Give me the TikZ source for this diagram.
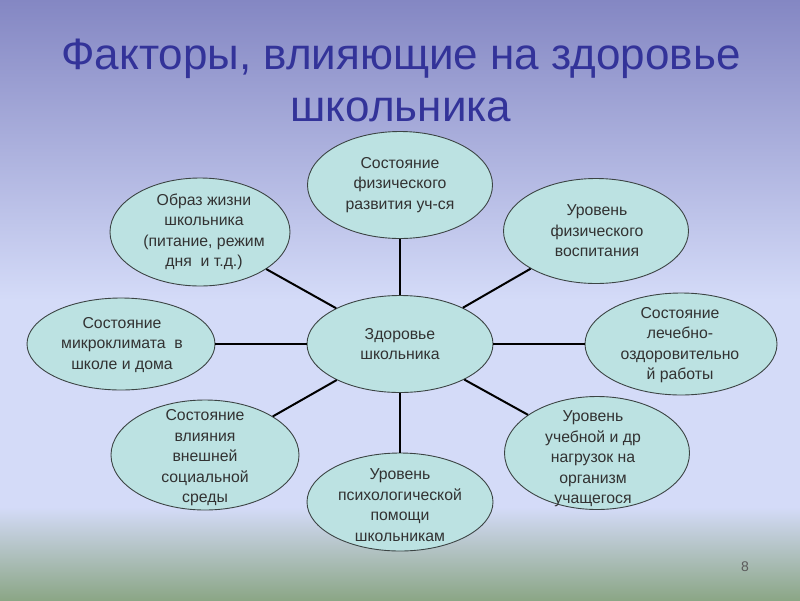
\documentclass[tikz,border=0pt]{standalone}
\usepackage{fontspec}
\setmainfont{Liberation Sans}
\usetikzlibrary{shapes.geometric}
\definecolor{bgtop}{RGB}{132,135,195}
\definecolor{bgmid}{RGB}{212,219,248}
\definecolor{bgbot}{RGB}{139,166,134}
\definecolor{bubblefill}{RGB}{188,226,226}
\definecolor{bubbleline}{RGB}{60,68,68}
\definecolor{titleblue}{RGB}{51,51,153}
\definecolor{textgray}{RGB}{50,50,50}
\tikzset{
  bubble/.style={ellipse, draw=bubbleline, line width=0.9pt, fill=bubblefill, inner sep=0pt},
  btext/.style={font=\fontsize{15.8}{20.5}\selectfont, text=textgray, align=center, inner sep=0pt},
  spoke/.style={line width=2pt, black}
}
\begin{document}
\begin{tikzpicture}[x=1pt,y=-1pt]
\useasboundingbox (0,0) rectangle (800,600);
\shade[top color=bgtop, bottom color=bgmid] (0,0) rectangle (800,300);
\fill[bgmid] (0,299) rectangle (800,508);
\shade[top color=bgmid, bottom color=bgbot] (0,507) rectangle (800,600);

\node[font=\fontsize{44}{52}\selectfont, text=titleblue, align=center, inner sep=0pt] (title) at (401,80) {Факторы, влияющие на здоровье\\школьника};

% ellipses
\node[bubble, minimum width=186pt, minimum height=97pt] (c) at (400,344) {};
\node[bubble, minimum width=185pt, minimum height=107pt] (n) at (400,185) {};
\node[bubble, minimum width=180pt, minimum height=108pt] (nw) at (200,232) {};
\node[bubble, minimum width=185pt, minimum height=105pt] (ne) at (596,231) {};
\node[bubble, minimum width=188pt, minimum height=92pt] (w) at (121,344) {};
\node[bubble, minimum width=192pt, minimum height=102pt] (e) at (681,344) {};
\node[bubble, minimum width=188pt, minimum height=110pt] (sw) at (205,455) {};
\node[bubble, minimum width=186pt, minimum height=98pt] (s) at (400,502) {};
\node[bubble, minimum width=185pt, minimum height=113pt] (se) at (597,453) {};

% texts
\node[btext] (tc) at (400,344) {Здоровье\\школьника};
\node[btext] (tn) at (400,185) {Состояние\\физического\\развития уч-ся};
\node[btext] (tnw) at (204,232) {Образ жизни\\школьника\\(питание, режим\\дня~~и т.д.)};
\node[btext] (tne) at (597,231) {Уровень\\физического\\воспитания};
\node[btext] (tw) at (122,345) {Состояние\\микроклимата~~в\\школе и дома};
\node[btext] (te) at (680,345) {Состояние\\лечебно-\\оздоровительно\\й работы};
\node[btext] (tsw) at (205,458) {Состояние\\влияния\\внешней\\социальной\\среды};
\node[btext] (ts) at (400,505) {Уровень\\психологической\\помощи\\школьникам};
\node[btext] (tse) at (593,459) {Уровень\\учебной и др\\нагрузок на\\организм\\учащегося};

\foreach \t in {n,nw,ne,w,e,sw,s,se} {
  \draw[spoke] (c) -- (\t);
}

\node[font=\fontsize{14}{16}\selectfont, text=textgray!80] (pnum) at (745,567) {8};
\end{tikzpicture}
\end{document}
